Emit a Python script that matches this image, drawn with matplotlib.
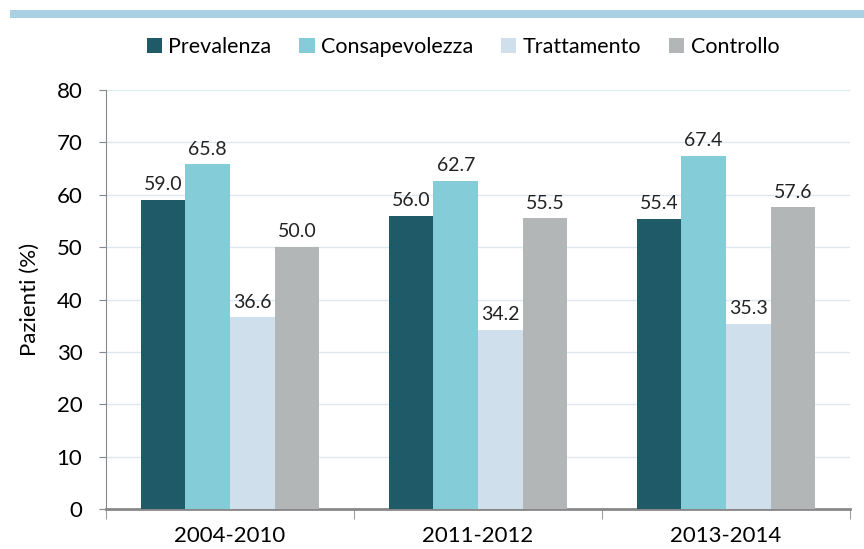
import matplotlib.pyplot as plt
import numpy as np

# dati del grafico
periodi = ['2004-2010', '2011-2012', '2013-2014']
serie = ['Prevalenza', 'Consapevolezza', 'Trattamento', 'Controllo']
prevalenza = [59.0, 56.0, 55.4]
consapevolezza = [65.8, 62.7, 67.4]
trattamento = [36.6, 34.2, 35.3]
controllo = [50.0, 55.5, 57.6]

colori = ['#1f5a68', '#83ccd8', '#cfdfec', '#b2b6b7']

plt.rcParams['font.family'] = ['Lato', 'DejaVu Sans']

fig = plt.figure(figsize=(8.64, 5.49), dpi=100)
ax = fig.add_axes([0.1227, 0.0729, 0.8611, 0.7631])

# banda azzurra in alto
fig.add_artist(plt.Rectangle((0.012, 0.967), 0.988, 0.014, transform=fig.transFigure,
                             color='#a9d1e3', lw=0))

x = np.arange(len(periodi))
w = 0.18
valori = [prevalenza, consapevolezza, trattamento, controllo]
for i, (nome, v) in enumerate(zip(serie, valori)):
    pos = x + (i - 1.5) * w
    bars = ax.bar(pos, v, w, color=colori[i], label=nome, zorder=3)
    for b, val in zip(bars, v):
        ax.text(b.get_x() + b.get_width() / 2, val + 1.3, '%.1f' % val,
                ha='center', va='bottom', fontsize=14, color='#222222')

ax.set_xlim(-0.5, 2.5)
ax.set_ylim(0, 80)
ax.set_yticks(range(0, 81, 10))
ax.yaxis.grid(True, color='#dde9f1', lw=1, zorder=0)
ax.set_xticks(x)
ax.set_xticklabels(periodi, fontsize=16)
ax.set_xticks([-0.5, 0.5, 1.5, 2.5], minor=True)
ax.tick_params(axis='x', which='major', length=0, pad=12)
ax.tick_params(axis='x', which='minor', length=7, color='#888888', direction='out')
ax.tick_params(axis='y', labelsize=16, length=5, color='#888888', pad=12)

for s in ['top', 'right']:
    ax.spines[s].set_visible(False)
ax.spines['left'].set_color('#888888')
ax.spines['bottom'].set_color('#888888')
ax.spines['bottom'].set_linewidth(2)

ax.set_ylabel('Pazienti (%)', fontsize=16, labelpad=12)

ax.legend(loc='center', bbox_to_anchor=(0.48, 1.103), ncol=4, frameon=False,
          fontsize=15.5, handlelength=0.7, handleheight=0.7, handletextpad=0.3,
          columnspacing=1.3)

plt.savefig('out.png', dpi=100)
